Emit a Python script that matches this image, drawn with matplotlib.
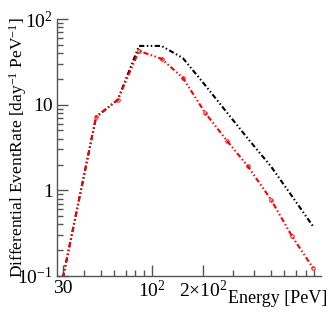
import numpy as np
import matplotlib
matplotlib.use("Agg")
import matplotlib.pyplot as plt
from matplotlib.ticker import FixedLocator, NullFormatter

plt.rcParams['font.family'] = ['Liberation Serif', 'DejaVu Serif']
plt.rcParams['mathtext.fontset'] = 'custom'
plt.rcParams['mathtext.rm'] = 'Liberation Serif'
plt.rcParams['mathtext.it'] = 'Liberation Serif:italic'

# values
energy = [30, 47, 63, 84, 114, 152, 205, 276, 367, 501, 667, 885]
rate_black = [0.095, 7.2, 11.4, 48.5, 48.5, 35, 17, 8.1, 4.0, 1.9, 0.85, 0.38]
rate_red = [0.095, 7.2, 11.4, 42.4, 34.3, 20.6, 8.1, 3.8, 1.9, 0.78, 0.29, 0.124]

xtick_vals = [30, 100, 200]
xtick_labels = ["30", r"$10^{2}$", r"$2{\times}10^{2}$"]
ytick_vals = [0.1, 1, 10, 100]
ytick_labels = [r"$10^{-1}$", "1", "10", r"$10^{2}$"]

fig = plt.figure(figsize=(3.32, 3.25), dpi=100)
ax = fig.add_axes([0.1717, 0.1508, 0.795, 0.7907])

ls = (0, (2.5, 1.2, 0.7, 1.2, 0.7, 1.2))
ax.plot(energy, rate_black, color="black", lw=1.5, linestyle=ls)
ax.plot(energy, rate_red, color="red", lw=1.5, linestyle=ls,
        marker="o", markersize=2.5, mfc="none", mec="red", mew=0.7)

ax.set_xscale("log")
ax.set_yscale("log")
ax.set_xlim(27.7, 985)
ax.set_ylim(0.1, 100)

for side in ("top", "right"):
    ax.spines[side].set_visible(False)
for side in ("left", "bottom"):
    ax.spines[side].set_color("#555555")
    ax.spines[side].set_linewidth(1.0)

ax.xaxis.set_major_locator(FixedLocator(xtick_vals))
ax.set_xticklabels(xtick_labels)
ax.xaxis.set_minor_locator(FixedLocator([40, 50, 60, 70, 80, 90, 300, 400,
                                         500, 600, 700, 800, 900]))
ax.xaxis.set_minor_formatter(NullFormatter())
ax.yaxis.set_major_locator(FixedLocator(ytick_vals))
ax.set_yticklabels(ytick_labels)
ax.yaxis.set_minor_locator(FixedLocator(
    [m * 10.0 ** e for e in (-1, 0, 1) for m in range(2, 10)]))
ax.yaxis.set_minor_formatter(NullFormatter())

ax.tick_params(which="both", direction="in", color="#555555",
               labelsize=14, pad=3)
ax.tick_params(which="major", length=8, width=1.0)
ax.tick_params(which="minor", length=4, width=1.0)

ax.set_ylabel(r"Differential EventRate [day$^{-1}$ PeV$^{-1}$]",
              fontsize=12.5)
ax.yaxis.set_label_coords(-0.105, 0.5)
fig.text(0.987, 0.068, "Energy [PeV]", fontsize=13, ha="right",
         va="baseline")

fig.savefig("out.png", dpi=100)
